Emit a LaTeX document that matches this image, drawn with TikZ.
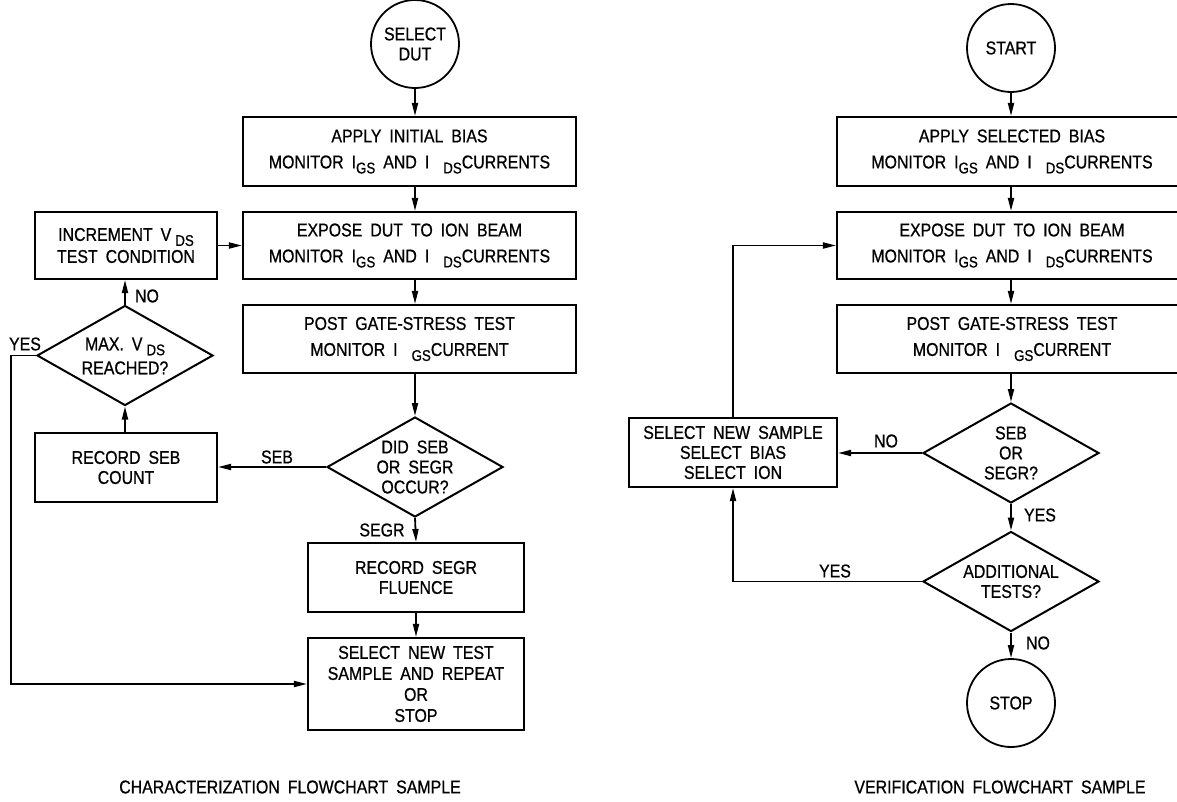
\documentclass[tikz,border=0pt]{standalone}
\usepackage{fontspec}
\setmainfont{Liberation Sans}[FakeStretch=0.86,WordSpace=1.8,FakeBold=0.7]
\usetikzlibrary{arrows.meta,shapes.geometric}
\newcommand{\sbs}[1]{\raisebox{-5pt}{\fontsize{15.5}{15.5}\selectfont #1}}
\begin{document}
\begin{tikzpicture}[x=1pt,y=-1pt,line width=1.8pt,
  every node/.style={font=\fontsize{18.5}{20}\selectfont},
  box/.style={draw,rectangle,inner sep=0pt,align=center,line width=2.1pt},
  dia/.style={draw,diamond,inner sep=0pt,line width=2pt,minimum width=176pt,minimum height=100pt},
  circ/.style={draw,circle,inner sep=0pt,minimum size=88pt,align=center,line width=1.8pt},
  txt/.style={inner sep=0pt,align=center},
  arr/.style={-{Triangle[length=13pt,width=6pt]}}]
\useasboundingbox (0,0) rectangle (1177,801);
\clip (0,0) rectangle (1177,801);
% ---------------- left flowchart
\node[circ] (c1) at (415,44) {SELECT\\DUT};
\node[box,minimum width=333pt,minimum height=69pt] (b1) at (409.5,151.5)
  {APPLY INITIAL BIAS\\[6pt]MONITOR I\sbs{GS} AND I\hspace{14pt}\sbs{DS}CURRENTS};
\node[box,minimum width=333pt,minimum height=67pt] (b2) at (409.5,245.5)
  {EXPOSE DUT TO ION BEAM\\[6pt]MONITOR I\sbs{GS} AND I\hspace{14pt}\sbs{DS}CURRENTS};
\node[box,minimum width=333pt,minimum height=68pt] (b3) at (409.5,339)
  {POST GATE-STRESS TEST\\[6pt]MONITOR I\hspace{14pt}\sbs{GS}CURRENT};
\node[dia] (d1) at (415,467) {};
\node[txt] at (d1) {DID SEB\\OR SEGR\\OCCUR?};
\node[box,minimum width=216pt,minimum height=69pt] (b4) at (416,577.5) {RECORD SEGR\\FLUENCE};
\node[box,minimum width=216pt,minimum height=92pt] (b5) at (416,684)
  {SELECT NEW TEST\\[1pt]SAMPLE AND REPEAT\\[1pt]OR\\[1pt]STOP};
\node[box,minimum width=182pt,minimum height=69pt] (b6) at (126,467.5) {RECORD SEB\\COUNT};
\node[dia] (d2) at (125,355.5) {};
\node[txt] at (125,356) {MAX. V\hspace{4pt}\sbs{DS}\\[4pt]REACHED?};
\node[box,minimum width=182pt,minimum height=67pt] (b7) at (126,245.5)
  {INCREMENT V\hspace{4pt}\sbs{DS}\\[2pt]TEST CONDITION};
\coordinate (yc) at (11,684);
\draw[arr] (c1.south) -- (c1.south |- b1.north);
\draw[arr] (b1.south -| c1) -- (b2.north -| c1);
\draw[arr] (b2.south -| c1) -- (b3.north -| c1);
\draw[arr] (b3.south -| c1) -- (d1.north);
\draw[arr] (d1.south) -- (b4.north);
\draw[arr] (b4.south) -- (b5.north);
\draw[arr] (d1.west) -- (b6.east |- d1.west);
\draw[arr] (b6.north -| d2) -- (d2.south);
\draw[arr] (d2.north) -- (b7.south -| d2);
\draw[arr] (b7.east) -- (b2.west);
\draw[arr] (d2.west) -- (d2.west -| yc) -- (yc) -- (b5.west);
\node[txt] at (147,296) {NO};
\node[txt] at (25,344) {YES};
\node[txt] at (277,457) {SEB};
\node[txt] at (382,530) {SEGR};
% ---------------- right flowchart
\node[circ] (c2) at (1011,48) {START};
\node[box,minimum width=350pt,minimum height=69pt] (b8) at (1012,151.5)
  {APPLY SELECTED BIAS\\[6pt]MONITOR I\sbs{GS} AND I\hspace{14pt}\sbs{DS}CURRENTS};
\node[box,minimum width=350pt,minimum height=67pt] (b9) at (1012,245.5)
  {EXPOSE DUT TO ION BEAM\\[6pt]MONITOR I\sbs{GS} AND I\hspace{14pt}\sbs{DS}CURRENTS};
\node[box,minimum width=350pt,minimum height=68pt] (b10) at (1012,339)
  {POST GATE-STRESS TEST\\[6pt]MONITOR I\hspace{14pt}\sbs{GS}CURRENT};
\node[dia] (d3) at (1011,453) {};
\node[txt] at (d3) {SEB\\OR\\SEGR?};
\node[box,minimum width=208pt,minimum height=69pt] (b11) at (733,452.5)
  {SELECT NEW SAMPLE\\SELECT BIAS\\SELECT ION};
\node[dia] (d4) at (1011,581.5) {};
\node[txt] at (d4) {ADDITIONAL\\TESTS?};
\node[circ] (c3) at (1011,703) {STOP};
\draw[arr] (c2.south) -- (c2.south |- b8.north);
\draw[arr] (b8.south -| c2) -- (b9.north -| c2);
\draw[arr] (b9.south -| c2) -- (b10.north -| c2);
\draw[arr] (b10.south -| c2) -- (d3.north);
\draw[arr] (d3.south) -- (d4.north);
\draw[arr] (d4.south) -- (c3.north);
\draw[arr] (d3.west) -- (b11.east |- d3.west);
\draw[arr] (d4.west) -- (d4.west -| b11.south) -- (b11.south);
\draw[arr] (b11.north) -- (b11.north |- b9.west) -- (b9.west);
\node[txt] at (886,441) {NO};
\node[txt] at (1040,515) {YES};
\node[txt] at (835,571) {YES};
\node[txt] at (1038,643) {NO};
% ---------------- captions
\node[txt] (cap1) at (290,787) {CHARACTERIZATION FLOWCHART SAMPLE};
\node[txt] (cap2) at (1000,787) {VERIFICATION FLOWCHART SAMPLE};
\end{tikzpicture}
\end{document}
